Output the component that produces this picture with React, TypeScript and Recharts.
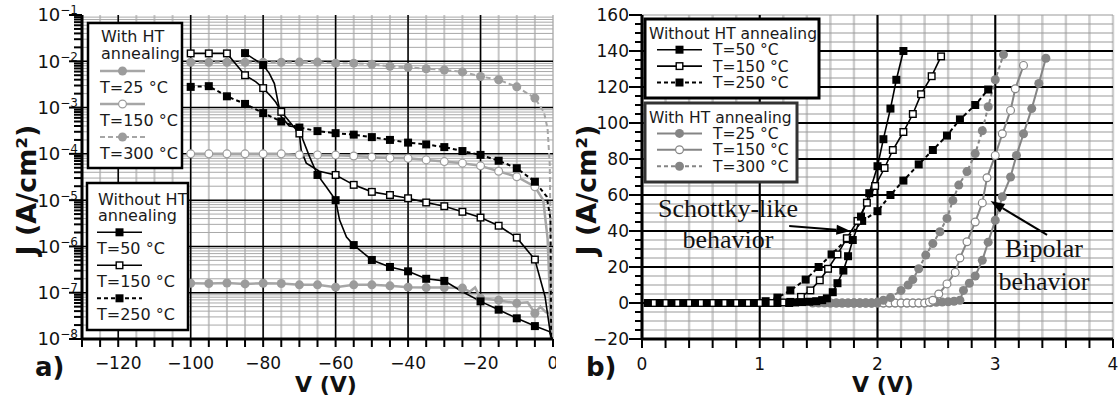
import React from 'react'
import { LineChart, Line, XAxis, YAxis, CartesianGrid, ReferenceLine } from 'recharts'

const FONT = '"DejaVu Sans", Verdana, sans-serif'
const SERIF = '"Liberation Serif", "DejaVu Serif", serif'

// ---- panel a) : V (V), J (A/cm2), marker flag (1 = symbol drawn) ----
const aHT25: number[][] = [
  [-100, 1.6e-7, 1], [-95, 1.58e-7, 1], [-90, 1.62e-7, 1], [-85, 1.55e-7, 1], [-80, 1.6e-7, 1],
  [-75, 1.58e-7, 1], [-70, 1.48e-7, 1], [-65, 1.48e-7, 1], [-60, 1.32e-7, 1], [-55, 1.48e-7, 1],
  [-50, 1.48e-7, 1], [-45, 1.41e-7, 1], [-40, 1.32e-7, 1], [-35, 1.29e-7, 1], [-30, 1.29e-7, 1],
  [-25, 1.26e-7, 1], [-23, 1.05e-7, 0], [-21.5, 1.3e-7, 0], [-20, 7.6e-8, 1], [-15, 6.9e-8, 1],
  [-10, 5.9e-8, 1], [-7, 6.2e-8, 0], [-5, 3.6e-8, 1], [-3.5, 5e-8, 0], [-2, 3.8e-8, 0], [-0.5, 3.6e-8, 0],
]
const aHT150: number[][] = [
  [-100, 1.0e-4, 1], [-95, 1.0e-4, 1], [-90, 1.0e-4, 1], [-85, 1.0e-4, 1], [-80, 1.0e-4, 1],
  [-75, 1.0e-4, 1], [-70, 9.5e-5, 1], [-65, 9.5e-5, 1], [-60, 9.4e-5, 1], [-55, 9.0e-5, 1],
  [-50, 8.5e-5, 1], [-45, 8.1e-5, 1], [-40, 8.0e-5, 1], [-35, 7.4e-5, 1], [-30, 6.8e-5, 1],
  [-25, 6.3e-5, 1], [-20, 5.5e-5, 1], [-15, 4.2e-5, 1], [-10, 3.2e-5, 1], [-5, 1.95e-5, 1],
  [-2.7, 1e-5, 0], [-1.5, 1.5e-6, 0], [-0.9, 1e-7, 0], [-0.6, 1e-8, 0],
]
const aHT300: number[][] = [
  [-100, 9.5e-3, 1], [-95, 9.5e-3, 1], [-90, 9.5e-3, 1], [-85, 9.5e-3, 1], [-80, 9.5e-3, 1],
  [-75, 9.5e-3, 1], [-70, 9.6e-3, 1], [-65, 9.6e-3, 1], [-60, 9.1e-3, 1], [-55, 9.1e-3, 1],
  [-50, 8.6e-3, 1], [-45, 7.8e-3, 1], [-40, 7.4e-3, 1], [-35, 6.9e-3, 1], [-30, 6.5e-3, 1],
  [-25, 5.9e-3, 1], [-20, 4.7e-3, 1], [-15, 4.0e-3, 1], [-10, 2.8e-3, 1], [-5, 1.6e-3, 1],
  [-2.5, 8e-4, 0], [-1.5, 3.5e-4, 0], [-0.9, 6e-5, 0], [-0.7, 3e-6, 0], [-0.5, 1e-7, 0], [-0.4, 1e-8, 0],
]
const aNo50: number[][] = [
  [-85, 1.5e-2, 1], [-80, 8.3e-3, 1], [-78.3, 5.5e-3, 0], [-76.9, 3.3e-3, 0], [-76, 1.45e-3, 0],
  [-75, 6.3e-4, 0], [-72.8, 4.0e-4, 0], [-70, 3.7e-4, 0], [-69, 2.0e-4, 0], [-67.2, 8.7e-5, 0],
  [-65, 3.5e-5, 1], [-62.6, 1.95e-5, 0], [-60, 1.0e-5, 1], [-58.9, 3.7e-6, 0], [-57, 1.6e-6, 0],
  [-55, 1.07e-6, 1], [-50, 5.1e-7, 1], [-45, 3.6e-7, 1], [-40, 2.9e-7, 1], [-35, 2.0e-7, 1],
  [-30, 1.8e-7, 1], [-25, 1.05e-7, 0], [-20, 6.5e-8, 1], [-15, 4.3e-8, 1], [-10, 2.8e-8, 1],
  [-5, 1.9e-8, 1], [-1, 1.45e-8, 0], [-0.3, 1.0e-8, 0],
]
const aNo150: number[][] = [
  [-100, 1.48e-2, 1], [-95, 1.48e-2, 1], [-90, 1.48e-2, 1], [-85, 5.0e-3, 1], [-82, 3.6e-3, 0],
  [-80, 2.63e-3, 1], [-78, 1.8e-3, 0], [-76.5, 1.3e-3, 0], [-75, 8.1e-4, 1], [-70, 2.75e-4, 1],
  [-69.5, 1.2e-4, 0], [-68.1, 6.3e-5, 0], [-64.5, 4.2e-5, 0], [-60, 3.5e-5, 1], [-55, 2.14e-5, 1],
  [-50, 1.51e-5, 1], [-45, 1.29e-5, 1], [-40, 1.1e-5, 1], [-35, 8.9e-6, 1], [-30, 7.4e-6, 1],
  [-25, 5.6e-6, 1], [-20, 4.2e-6, 1], [-15, 2.8e-6, 1], [-10, 1.55e-6, 1], [-5, 5.2e-7, 1],
  [-2.2, 8.3e-8, 0], [-0.8, 1.45e-8, 0], [-0.3, 1e-8, 0],
]
const aNo250: number[][] = [
  [-100, 2.8e-3, 1], [-95, 2.9e-3, 1], [-90, 1.75e-3, 1], [-85, 1.2e-3, 1], [-80, 7.6e-4, 1],
  [-75, 5.0e-4, 1], [-70, 3.7e-4, 1], [-65, 3.1e-4, 1], [-60, 2.8e-4, 1], [-55, 2.6e-4, 1],
  [-50, 2.3e-4, 1], [-45, 2.0e-4, 1], [-40, 1.75e-4, 1], [-35, 1.6e-4, 1], [-30, 1.4e-4, 1],
  [-25, 1.15e-4, 1], [-20, 9.5e-5, 1], [-15, 7.1e-5, 1], [-10, 4.9e-5, 1], [-5, 2.5e-5, 1],
  [-1.75, 1.2e-5, 0], [-0.7, 4e-6, 0], [-0.6, 1e-7, 0], [-0.5, 1e-8, 0],
]

// ---- panel b) : V (V), J (A/cm2) ----
const bNo50: number[][] = [
  [0.05, 0], [0.15, 0], [0.25, 0], [0.35, 0], [0.45, 0], [0.55, 0], [0.65, 0], [0.75, 0], [0.85, 0],
  [0.95, 0], [1.05, 0], [1.15, 0], [1.25, 0], [1.3, 0.3], [1.36, 0.5], [1.42, 0.7], [1.48, 1.0],
  [1.53, 1.6], [1.57, 2.6], [1.62, 6], [1.66, 11], [1.71, 18], [1.75, 26], [1.79, 35], [1.86, 48],
  [1.93, 61], [2.0, 76], [2.05, 91], [2.11, 108], [2.16, 124], [2.22, 140],
]
const bNo150: number[][] = [
  [0.1, 0], [0.2, 0], [0.3, 0], [0.4, 0], [0.5, 0], [0.6, 0], [0.7, 0], [0.8, 0], [0.9, 0], [1.0, 0],
  [1.1, 0], [1.2, 0.3], [1.26, 0.6], [1.35, 3.4], [1.43, 7], [1.51, 12.6], [1.58, 19], [1.66, 27],
  [1.74, 36], [1.83, 45.6], [1.91, 55.7], [1.98, 65], [2.06, 75], [2.13, 85], [2.22, 95], [2.3, 105],
  [2.37, 116], [2.46, 126], [2.54, 137],
]
const bNo250: number[][] = [
  [0.05, 0], [0.15, 0], [0.25, 0], [0.35, 0], [0.45, 0], [0.55, 0], [0.65, 0], [0.75, 0], [0.85, 0],
  [0.95, 0], [1.05, 1], [1.15, 3], [1.26, 7], [1.39, 13], [1.5, 20], [1.61, 27], [1.74, 35.5],
  [1.87, 45.6], [2.0, 51], [2.11, 60], [2.22, 68], [2.35, 77], [2.47, 85], [2.59, 93], [2.7, 102],
  [2.83, 110], [2.94, 118.6],
]
const bHT25: number[][] = [
  [1.6, 0], [1.65, 0], [1.7, 0], [1.75, 0], [1.8, 0], [1.85, 0], [1.9, 0], [1.95, 0], [2.0, 0],
  [2.05, 0], [2.1, 0], [2.15, 0], [2.2, 0], [2.25, 0], [2.3, 0], [2.35, 0], [2.4, 0], [2.45, 0.2],
  [2.5, 0.4], [2.55, 0.5], [2.6, 0.7], [2.65, 1], [2.7, 1.5], [2.73, 7], [2.78, 11], [2.83, 15],
  [2.89, 23.7], [2.94, 33.8], [3.0, 46], [3.06, 59], [3.13, 70], [3.18, 82], [3.24, 94], [3.31, 108],
  [3.37, 122], [3.43, 136],
]
const bHT150: number[][] = [
  [1.8, 0], [1.85, 0], [1.9, 0], [1.95, 0], [2.0, 0], [2.05, 0], [2.1, 0], [2.15, 0], [2.2, 0],
  [2.25, 0], [2.3, 0], [2.35, 0], [2.4, 0], [2.44, 0.5], [2.47, 1.5], [2.52, 5], [2.59, 10.6],
  [2.66, 17], [2.7, 25], [2.76, 34], [2.83, 45], [2.89, 55.6], [2.93, 69.6], [3.0, 82], [3.06, 94],
  [3.13, 107], [3.17, 119], [3.24, 132],
]
const bHT300: number[][] = [
  [1.45, 0], [1.5, 0], [1.55, 0], [1.6, 0], [1.65, 0], [1.7, 0], [1.75, 0], [1.8, 0], [1.85, 0],
  [1.9, 0], [1.95, 0], [2.0, 0.5], [2.05, 1.5], [2.11, 3], [2.2, 7], [2.26, 10], [2.3, 13], [2.35, 19],
  [2.41, 26.6], [2.47, 33], [2.53, 39.6], [2.59, 47], [2.64, 57], [2.69, 65.5], [2.76, 73], [2.83, 83],
  [2.89, 95.7], [2.94, 109], [3.0, 124], [3.07, 138],
]

// axis ticks and labels
const aXLabels = [-120, -100, -80, -60, -40, -20, 0]
const aYExp = [-8, -7, -6, -5, -4, -3, -2, -1]
const bXLabels = [0, 1, 2, 3, 4]
const bYLabels = [-20, 0, 20, 40, 60, 80, 100, 120, 140, 160]

const steps = (a: number, b: number, n: number) => Array.from({ length: n + 1 }, (_, i) => a + ((b - a) * i) / n)
const aXTicks = steps(-130, 0, 26)
const aYMajor = aYExp.map((e) => Math.pow(10, e))
const aYMinor = aYExp.slice(0, -1).flatMap((e) => [2, 3, 4, 5, 6, 7, 8, 9].map((m) => m * Math.pow(10, e)))
const aYTicks = [...aYMajor, ...aYMinor].sort((p, q) => p - q)
const bXTicks = steps(0, 4, 20)
const bYTicks = steps(-20, 160, 36)

const pts = (arr: number[][]) => arr.map(([v, j, m]) => ({ v, j, m: m === undefined ? 1 : m }))
const near = (v: number, list: number[]) =>
  list.some((l) => (l === 0 ? Math.abs(v) < 1e-9 : Math.abs(v / l - 1) < 1e-6))
const minus = (v: number) => (v < 0 ? '\u2212' + Math.abs(v) : String(v))

function Mark({ x, y, kind, color, s }: any) {
  if (kind === 'sqF') return <rect x={x - s / 2} y={y - s / 2} width={s} height={s} fill="#000" />
  if (kind === 'sqO')
    return <rect x={x - s / 2 + 0.7} y={y - s / 2 + 0.7} width={s - 1.4} height={s - 1.4} fill="#fff" stroke="#000" strokeWidth={1.4} />
  if (kind === 'cF') return <circle cx={x} cy={y} r={s / 2} fill={color} />
  return <circle cx={x} cy={y} r={s / 2 - 0.6} fill="#fff" stroke={color} strokeWidth={1.2} />
}

const dotFor = (kind: string, color: string, s: number) => (p: any) => {
  const key = `d${p.index}`
  if (!p.payload || !p.payload.m || p.cx == null || p.cy == null) return <g key={key} />
  return (
    <g key={key}>
      <Mark x={p.cx} y={p.cy} kind={kind} color={color} s={s} />
    </g>
  )
}

const LogTick = (props: any) => {
  const { x, y, payload } = props
  const v = payload.value
  const major = near(v, aYMajor)
  const e = Math.round(Math.log10(v))
  return (
    <g>
      <line x1={x - (major ? 13 : 8)} x2={x} y1={y} y2={y} stroke="#000" strokeWidth={2} />
      {major && (
        <text x={x - 4} y={y} dy="0.36em" textAnchor="end" fontFamily={FONT} fontSize={18} fill="#111">
          10
          <tspan dy={-7} fontSize={12}>
            {'\u2212' + Math.abs(e)}
          </tspan>
        </text>
      )}
    </g>
  )
}

const AXTick = (props: any) => {
  const { x, y, payload } = props
  const v = payload.value
  return (
    <g>
      <line x1={x} x2={x} y1={y} y2={y + 8} stroke="#000" strokeWidth={2} />
      {near(v, aXLabels) && (
        <text x={x} y={y + 24} dy="0.36em" textAnchor="middle" fontFamily={FONT} fontSize={17} fill="#111">
          {minus(Math.round(v))}
        </text>
      )}
    </g>
  )
}

const BXTick = (props: any) => {
  const { x, y, payload } = props
  const v = payload.value
  return (
    <g>
      <line x1={x} x2={x} y1={y} y2={y + 9} stroke="#000" strokeWidth={2} />
      {near(v, bXLabels) && (
        <text x={x} y={y + 25} dy="0.36em" textAnchor="middle" fontFamily={FONT} fontSize={17} fill="#111">
          {minus(Math.round(v))}
        </text>
      )}
    </g>
  )
}

const BYTick = (props: any) => {
  const { x, y, payload } = props
  const v = payload.value
  const major = near(v, bYLabels)
  return (
    <g>
      <line x1={x - (major ? 13 : 7)} x2={x} y1={y} y2={y} stroke="#000" strokeWidth={2} />
      {major && (
        <text x={x - 13} y={y} dy="0.36em" textAnchor="end" fontFamily={FONT} fontSize={17} fill="#111">
          {minus(Math.round(v))}
        </text>
      )}
    </g>
  )
}

const Arrow = (p: any) => {
  const { x1, y1, x2, y2 } = p
  if ([x1, y1, x2, y2].some((n) => n == null || isNaN(n))) return <g />
  const a = Math.atan2(y2 - y1, x2 - x1)
  const L = 14
  const W = 5
  const bx = x2 - L * Math.cos(a)
  const by = y2 - L * Math.sin(a)
  const tri = `${x2},${y2} ${bx - W * Math.sin(a)},${by + W * Math.cos(a)} ${bx + W * Math.sin(a)},${by - W * Math.cos(a)}`
  return (
    <g>
      <line x1={x1} y1={y1} x2={bx} y2={by} stroke="#000" strokeWidth={2} />
      <polygon points={tri} fill="#000" />
    </g>
  )
}

// series styles (panel a / panel b)
const GA = '#9c9c9c'
const GB = '#858585'
const aSeries = [
  { d: aHT25, stroke: '#a6a6a6', w: 2.5, dash: undefined, kind: 'cF', mc: GA, s: 9 },
  { d: aHT150, stroke: '#a6a6a6', w: 2.5, dash: undefined, kind: 'cO', mc: GA, s: 9 },
  { d: aHT300, stroke: '#a6a6a6', w: 2, dash: '5 3', kind: 'cF', mc: GA, s: 9 },
  { d: aNo250, stroke: '#000', w: 2, dash: '4 3', kind: 'sqF', mc: '#000', s: 8 },
  { d: aNo150, stroke: '#000', w: 1.6, dash: undefined, kind: 'sqO', mc: '#000', s: 8 },
  { d: aNo50, stroke: '#000', w: 1.6, dash: undefined, kind: 'sqF', mc: '#000', s: 8 },
]
const bSeries = [
  { d: bHT25, stroke: GB, w: 2, dash: undefined, kind: 'cF', mc: GB, s: 9 },
  { d: bHT150, stroke: GB, w: 2, dash: undefined, kind: 'cO', mc: GB, s: 9 },
  { d: bHT300, stroke: GB, w: 2, dash: '4 3', kind: 'cF', mc: GB, s: 9 },
  { d: bNo250, stroke: '#000', w: 2, dash: '4 3', kind: 'sqF', mc: '#000', s: 8 },
  { d: bNo150, stroke: '#000', w: 1.6, dash: undefined, kind: 'sqO', mc: '#000', s: 8 },
  { d: bNo50, stroke: '#000', w: 1.6, dash: undefined, kind: 'sqF', mc: '#000', s: 8 },
]

const legendA = [
  { title: ['With HT', 'annealing'], labels: ['T=25 °C', 'T=150 °C', 'T=300 °C'], st: aSeries.slice(0, 3) },
  { title: ['Without HT', 'annealing'], labels: ['T=50 °C', 'T=150 °C', 'T=250 °C'], st: [aSeries[5], aSeries[4], aSeries[3]] },
]
const legendB = [
  { title: 'Without HT annealing', labels: ['T=50 °C', 'T=150 °C', 'T=250 °C'], st: [bSeries[5], bSeries[4], bSeries[3]] },
  { title: 'With HT annealing', labels: ['T=25 °C', 'T=150 °C', 'T=300 °C'], st: bSeries.slice(0, 3) },
]

function Sample({ x1, x2, y, st }: any) {
  return (
    <g>
      <line x1={x1} x2={x2} y1={y} y2={y} stroke={st.stroke} strokeWidth={st.w} strokeDasharray={st.dash} />
      <Mark x={(x1 + x2) / 2} y={y} kind={st.kind} color={st.mc} s={st.s} />
    </g>
  )
}

const txt = { fontFamily: FONT, fontSize: 16, fill: '#1a1a1a' }

export default function App() {
  return (
    <div style={{ position: 'absolute', left: 0, top: 0, width: 1118, height: 399, background: '#fff', overflow: 'hidden' }}>
      <div style={{ position: 'absolute', left: 0, top: 0 }}>
        <LineChart width={556} height={399} margin={{ top: 15, right: 3, bottom: 0, left: 2 }}>
          <CartesianGrid horizontal={false} verticalValues={aXTicks} stroke="#c6c6c6" strokeWidth={2} />
          <CartesianGrid vertical={false} horizontalValues={aYMinor} stroke="#a8a8a8" strokeWidth={1} />
          <CartesianGrid horizontal={false} verticalValues={aXLabels.slice(0, -1)} stroke="#000" strokeWidth={1.5} />
          <CartesianGrid vertical={false} horizontalValues={aYMajor.slice(1, -1)} stroke="#000" strokeWidth={1.5} />
          <XAxis
            type="number"
            dataKey="v"
            domain={[-130, 0]}
            ticks={aXTicks}
            interval={0}
            allowDataOverflow
            tick={<AXTick />}
            tickLine={false}
            tickSize={0}
            tickMargin={0}
            height={60}
            axisLine={{ stroke: '#000', strokeWidth: 3 }}
          />
          <XAxis xAxisId="top" orientation="top" type="number" domain={[-130, 0]} height={0} tick={false} tickLine={false} axisLine={{ stroke: '#000', strokeWidth: 3 }} />
          <YAxis
            type="number"
            scale="log"
            domain={[1e-8, 1e-1]}
            ticks={aYTicks}
            interval={0}
            allowDataOverflow
            width={80}
            tick={<LogTick />}
            tickLine={false}
            tickSize={0}
            tickMargin={0}
            axisLine={{ stroke: '#000', strokeWidth: 3 }}
          />
          <YAxis yAxisId="r" orientation="right" width={0} tick={false} tickLine={false} axisLine={{ stroke: '#000', strokeWidth: 3 }} />
          {aSeries.map((s, i) => (
            <Line
              key={i}
              data={pts(s.d)}
              dataKey="j"
              type="linear"
              stroke={s.stroke}
              strokeWidth={s.w}
              strokeDasharray={s.dash}
              dot={dotFor(s.kind, s.mc, s.s)}
              activeDot={false}
              isAnimationActive={false}
            />
          ))}
        </LineChart>
      </div>

      <div style={{ position: 'absolute', left: 560, top: 0 }}>
        <LineChart width={558} height={399} margin={{ top: 15, right: 5, bottom: 0, left: 2 }}>
          <CartesianGrid horizontal={false} verticalValues={bXTicks} stroke="#cdcdcd" strokeWidth={2.5} />
          <CartesianGrid vertical={false} horizontalValues={bYTicks} stroke="#9a9a9a" strokeWidth={1.2} />
          <CartesianGrid horizontal={false} verticalValues={[1, 2, 3]} stroke="#000" strokeWidth={2} />
          <CartesianGrid vertical={false} horizontalValues={bYLabels.slice(1, -1)} stroke="#000" strokeWidth={2} />
          <XAxis
            type="number"
            dataKey="v"
            domain={[0, 4]}
            ticks={bXTicks}
            interval={0}
            allowDataOverflow
            tick={<BXTick />}
            tickLine={false}
            tickSize={0}
            tickMargin={0}
            height={60}
            axisLine={{ stroke: '#000', strokeWidth: 3 }}
          />
          <XAxis xAxisId="top" orientation="top" type="number" domain={[0, 4]} height={0} tick={false} tickLine={false} axisLine={{ stroke: '#000', strokeWidth: 3 }} />
          <YAxis
            type="number"
            domain={[-20, 160]}
            ticks={bYTicks}
            interval={0}
            allowDataOverflow
            width={80}
            tick={<BYTick />}
            tickLine={false}
            tickSize={0}
            tickMargin={0}
            axisLine={{ stroke: '#000', strokeWidth: 3 }}
          />
          <YAxis yAxisId="r" orientation="right" width={0} tick={false} tickLine={false} axisLine={{ stroke: '#a0a0a0', strokeWidth: 4 }} />
          {bSeries.map((s, i) => (
            <Line
              key={i}
              data={pts(s.d)}
              dataKey="j"
              type="linear"
              stroke={s.stroke}
              strokeWidth={s.w}
              strokeDasharray={s.dash}
              dot={dotFor(s.kind, s.mc, s.s)}
              activeDot={false}
              isAnimationActive={false}
            />
          ))}
          <ReferenceLine segment={[{ x: 1.25, y: 42.8 }, { x: 1.77, y: 40 }]} ifOverflow="visible" shape={Arrow} />
          <ReferenceLine segment={[{ x: 3.44, y: 37.8 }, { x: 2.96, y: 56.7 }]} ifOverflow="visible" shape={Arrow} />
        </LineChart>
      </div>

      <svg width={1118} height={399} style={{ position: 'absolute', left: 0, top: 0, pointerEvents: 'none' }}>
        {/* panel a legends */}
        <rect x={88} y={23} width={94} height={145} fill="#fff" stroke="#000" strokeWidth={2.5} />
        <rect x={87} y={183} width={101} height={147} fill="#fff" stroke="#000" strokeWidth={2.5} />
        {legendA.map((lg, k) => {
          const t0 = k === 0 ? 36.7 : 199
          const s0 = k === 0 ? 71 : 232.3
          const xs = k === 0 ? 100 : 97
          return (
            <g key={k}>
              {lg.title.map((t, i) => (
                <text key={t} x={xs + 1} y={t0 + i * 16.6} dy="0.36em" {...txt}>
                  {t}
                </text>
              ))}
              {lg.labels.map((l, i) => (
                <g key={l}>
                  <Sample x1={xs} x2={xs + 45} y={s0 + i * 33} st={lg.st[i]} />
                  <text x={xs} y={s0 + 16.3 + i * 33} dy="0.36em" {...txt}>
                    {l}
                  </text>
                </g>
              ))}
            </g>
          )
        })}

        {/* panel b legends */}
        <rect x={645} y={19} width={174} height={79} fill="#fff" stroke="#000" strokeWidth={3} />
        <rect x={645} y={103} width={152} height={79} fill="#fff" stroke="#333" strokeWidth={3} />
        {legendB.map((lg, k) => {
          const t0 = k === 0 ? 33.3 : 117
          return (
            <g key={k}>
              <text x={649} y={t0} dy="0.36em" {...txt} fontSize={15.5}>
                {lg.title}
              </text>
              {lg.labels.map((l, i) => (
                <g key={l}>
                  <Sample x1={657} x2={702} y={t0 + 16.4 * (i + 1)} st={lg.st[i]} />
                  <text x={713} y={t0 + 16.4 * (i + 1)} dy="0.36em" {...txt} fontSize={15.5}>
                    {l}
                  </text>
                </g>
              ))}
            </g>
          )
        })}

        {/* annotations */}
        <g fontFamily={SERIF} fontSize={26} fill="#111" textAnchor="middle">
          <text x={728} y={217}>Schottky-like</text>
          <text x={728} y={248}>behavior</text>
          <text x={1044} y={257}>Bipolar</text>
          <text x={1044} y={290}>behavior</text>
        </g>

        {/* axis titles and panel tags */}
        <g fontFamily={FONT} fontWeight="bold" fill="#111">
          <text x={326} y={392} fontSize={22} textAnchor="middle">V (V)</text>
          <text x={883} y={392} fontSize={22} textAnchor="middle">V (V)</text>
          <text x={0} y={0} fontSize={27} textAnchor="middle" transform="translate(36 190) rotate(-90)">J (A/cm²)</text>
          <text x={0} y={0} fontSize={27} textAnchor="middle" transform="translate(596 190) rotate(-90)">J (A/cm²)</text>
          <text x={35} y={376} fontSize={26}>a)</text>
          <text x={586} y={376} fontSize={26}>b)</text>
        </g>
      </svg>
    </div>
  )
}
